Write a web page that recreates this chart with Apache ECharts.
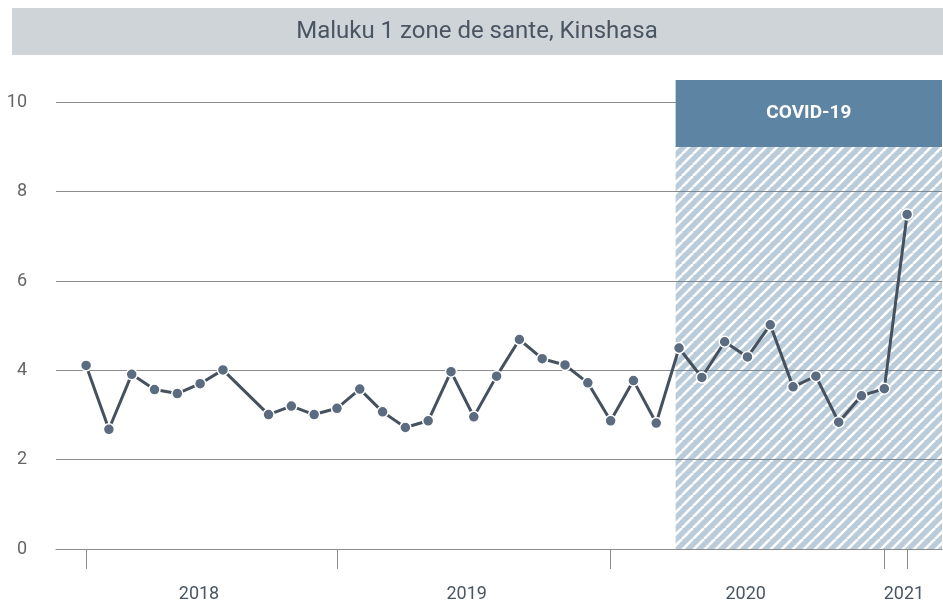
<!DOCTYPE html>
<html>
<head>
<meta charset="utf-8">
<script src="https://cdn.jsdelivr.net/npm/echarts@6/dist/echarts.min.js"></script>
<style>
  html, body { margin: 0; padding: 0; background: #fff; }
  #chart { width: 943px; height: 603px; }
</style>
</head>
<body>
<div id="chart"></div>
<script>
// monthly values (Sep 2018 missing)
const months = [
  '2018-02', '2018-03', '2018-04', '2018-05', '2018-06', '2018-07',
  '2018-08', '2018-10', '2018-11', '2018-12',
  '2019-01', '2019-02', '2019-03', '2019-04', '2019-05', '2019-06',
  '2019-07', '2019-08', '2019-09', '2019-10', '2019-11', '2019-12',
  '2020-01', '2020-02', '2020-03', '2020-04', '2020-05', '2020-06',
  '2020-07', '2020-08', '2020-09', '2020-10', '2020-11', '2020-12',
  '2021-01', '2021-02'
];
const values = [
  4.11, 2.68, 3.91, 3.57, 3.48, 3.70,
  4.01, 3.01, 3.20, 3.01,
  3.15, 3.58, 3.07, 2.72, 2.87, 3.97,
  2.96, 3.87, 4.69, 4.26, 4.12, 3.72,
  2.87, 3.77, 2.82, 4.50, 3.84, 4.64,
  4.30, 5.02, 3.63, 3.87, 2.84, 3.43,
  3.59, 7.49
];

const yTicks = [0, 2, 4, 6, 8, 10];
const tickMonths = ['2018-02', '2019-01', '2020-01', '2021-01', '2021-02'];
const yearLabels = ['2018', '2019', '2020', '2021'];
// label centres, in months from Feb 2018
const yearLabelPos = [4.95, 16.69, 28.92, 35.86];

const axisMin = -1.32;
const axisMax = 37.53;
const covidStart = 25.85;   // late March 2020
const covidHatchTop = 9;
const covidBoxTop = 10.5;

const font = 'Roboto';
const textColor = '#4a5563';
const gridColor = '#8c8c8c';

// months since Feb 2018
function monthIndex(s) {
  const [y, m] = s.split('-').map(Number);
  return (y - 2018) * 12 + (m - 2);
}

// diagonal hatch tile, white stripes left transparent
function hatchTile() {
  const s = 11;
  const c = document.createElement('canvas');
  c.width = s;
  c.height = s;
  const ctx = c.getContext('2d');
  ctx.fillStyle = 'rgba(91,132,165,0.42)';
  ctx.fillRect(0, 0, s, s);
  ctx.globalCompositeOperation = 'destination-out';
  ctx.strokeStyle = '#000';
  ctx.lineWidth = 2.6;
  for (let k = -1; k <= 1; k++) {
    ctx.beginPath();
    ctx.moveTo(k * s, s);
    ctx.lineTo(k * s + s, 0);
    ctx.stroke();
  }
  return c;
}

function yearLabel(v) {
  let best = 0;
  yearLabelPos.forEach((p, i) => {
    if (Math.abs(p - v) < Math.abs(yearLabelPos[best] - v)) best = i;
  });
  return yearLabels[best];
}

let myChart = echarts.init(document.getElementById('chart'));

myChart.setOption({
  animation: false,
  textStyle: { fontFamily: font },
  graphic: [
    {
      type: 'rect',
      shape: { x: 12, y: 8, width: 931, height: 47 },
      style: { fill: '#cfd4d8' },
      silent: true
    },
    {
      type: 'text',
      x: 477,
      y: 32,
      style: {
        text: 'Maluku 1 zone de sante, Kinshasa',
        fill: textColor,
        font: '24px Roboto',
        textAlign: 'center',
        textVerticalAlign: 'middle'
      },
      silent: true
    }
  ],
  grid: { left: 56, right: 1, top: 80, bottom: 53 },
  xAxis: {
    type: 'value',
    min: axisMin,
    max: axisMax,
    axisLine: { show: true, lineStyle: { color: gridColor, width: 1 } },
    axisTick: {
      show: true,
      customValues: tickMonths.map(monthIndex),
      length: 20,
      lineStyle: { color: gridColor, width: 1 }
    },
    axisLabel: {
      customValues: yearLabelPos,
      formatter: yearLabel,
      margin: 36,
      fontSize: 18,
      color: textColor,
      fontFamily: font
    },
    splitLine: { show: false }
  },
  yAxis: {
    type: 'value',
    min: 0,
    max: covidBoxTop,
    interval: 2,
    axisLine: { show: false },
    axisTick: { show: false, customValues: yTicks },
    axisLabel: {
      customValues: yTicks,
      margin: 29,
      fontSize: 18,
      color: '#666',
      fontFamily: font
    },
    splitLine: { show: true, lineStyle: { color: gridColor, width: 1 } }
  },
  series: [
    {
      name: 'Maluku 1',
      type: 'line',
      data: months.map((m, i) => [monthIndex(m), values[i]]),
      symbol: 'circle',
      symbolSize: 11,
      lineStyle: { color: '#46515f', width: 3 },
      itemStyle: { color: '#5b6b80', borderColor: '#fff', borderWidth: 1.5 },
      z: 3,
      markArea: {
        silent: true,
        data: [
          [
            {
              xAxis: covidStart,
              yAxis: 0,
              itemStyle: { color: { image: hatchTile(), repeat: 'repeat' } },
              label: { show: false }
            },
            { xAxis: axisMax, yAxis: covidHatchTop }
          ],
          [
            {
              xAxis: covidStart,
              yAxis: covidHatchTop,
              name: 'COVID-19',
              itemStyle: { color: '#5e84a4' },
              label: {
                show: true,
                position: 'inside',
                color: '#fff',
                fontWeight: 'bold',
                fontSize: 19,
                fontFamily: font
              }
            },
            { xAxis: axisMax, yAxis: covidBoxTop }
          ]
        ]
      }
    }
  ]
});
</script>
</body>
</html>
